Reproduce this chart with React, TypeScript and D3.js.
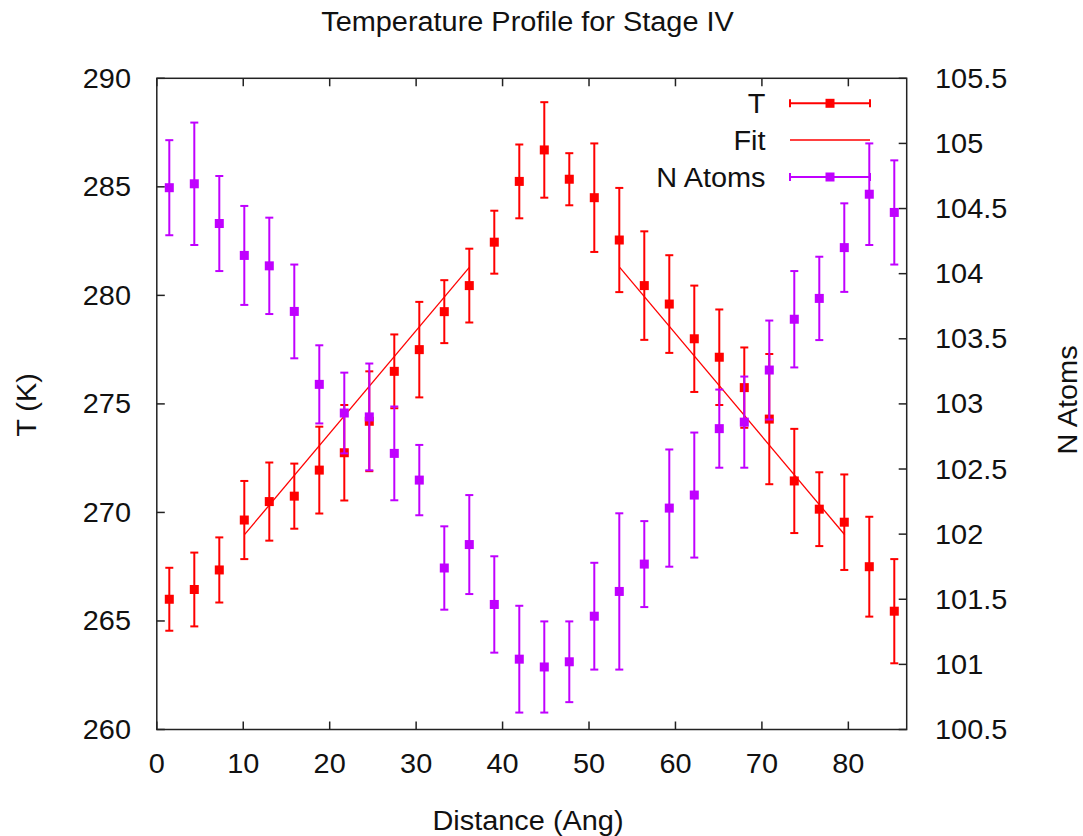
import React from "react";
import * as d3 from "d3";

const distance = [1.446, 4.338, 7.23, 10.122, 13.014, 15.906, 18.798, 21.69, 24.582, 27.474, 30.366, 33.258, 36.15, 39.042, 41.934, 44.826, 47.718, 50.61, 53.502, 56.394, 59.286, 62.178, 65.07, 67.962, 70.854, 73.746, 76.638, 79.53, 82.422, 85.314];
const tempValues = [266.0, 266.45, 267.35, 269.65, 270.5, 270.75, 271.95, 272.75, 274.2, 276.5, 277.5, 279.25, 280.45, 282.45, 285.25, 286.7, 285.35, 284.5, 282.55, 280.45, 279.6, 278.0, 277.15, 275.75, 274.3, 271.45, 270.15, 269.55, 267.5, 265.45];
const tempErrors = [1.45, 1.7, 1.5, 1.8, 1.8, 1.5, 2.0, 2.2, 2.3, 1.7, 2.2, 1.45, 1.7, 1.45, 1.7, 2.2, 1.2, 2.5, 2.4, 2.5, 2.25, 2.45, 2.2, 1.85, 3.0, 2.4, 1.7, 2.2, 2.3, 2.4];
const atomValues = [104.66, 104.69, 104.385, 104.14, 104.06, 103.71, 103.15, 102.93, 102.9, 102.62, 102.415, 101.74, 101.92, 101.46, 101.04, 100.98, 101.02, 101.37, 101.56, 101.77, 102.2, 102.3, 102.81, 102.86, 103.26, 103.65, 103.81, 104.2, 104.61, 104.47];
const atomErrors = [0.365, 0.47, 0.365, 0.38, 0.37, 0.36, 0.3, 0.31, 0.41, 0.36, 0.27, 0.32, 0.38, 0.37, 0.41, 0.35, 0.31, 0.41, 0.6, 0.33, 0.45, 0.48, 0.3, 0.35, 0.38, 0.37, 0.32, 0.34, 0.39, 0.4];
// Fit segments: [x start, x end, T start, T end]
const fitLeft = [10.17, 36.15, 268.99, 281.29];
const fitRight = [53.55, 79.58, 281.29, 268.97];

const xTicks = [0, 10, 20, 30, 40, 50, 60, 70, 80];
const yTicks = [260, 265, 270, 275, 280, 285, 290];
const y2Ticks = [100.5, 101, 101.5, 102, 102.5, 103, 103.5, 104, 104.5, 105, 105.5];

const RED = "#ff0000";
const PURPLE = "#c000ff";
const FONT = "'Liberation Sans', Arial, sans-serif";
const FS = 27;
const SX = 1.07;

const L = 156.8, R = 906.7, TOP = 78.3, BOT = 729.5;

function Txt({ x, y, anchor = "start", rotate = 0, children }: any) {
  return (
    <text
      transform={`translate(${x},${y}) rotate(${rotate}) scale(${SX},1)`}
      textAnchor={anchor}
      fontFamily={FONT}
      fontSize={FS}
      fill="#111"
    >
      {children}
    </text>
  );
}

export default function App() {
  const x = d3.scaleLinear().domain([0, 86.75]).range([L, R]);
  const y = d3.scaleLinear().domain([260, 290]).range([BOT, TOP]);
  const y2 = d3.scaleLinear().domain([100.5, 105.5]).range([BOT, TOP]);
  const line = d3.line<[number, number]>().x((d) => x(d[0])).y((d) => y(d[1]));
  const cap = 4;
  const ms = 4.5;
  const tick = 8;

  const errSeries = (vals: number[], errs: number[], sc: any, color: string, key: string) => (
    <g key={key}>
      {vals.map((v, i) => {
        const cx = x(distance[i]);
        const yt = sc(v + errs[i]);
        const yb = sc(v - errs[i]);
        return (
          <g key={i}>
            <line x1={cx} x2={cx} y1={yt} y2={yb} stroke={color} strokeWidth={2} />
            <line x1={cx - cap} x2={cx + cap} y1={yt} y2={yt} stroke={color} strokeWidth={2} />
            <line x1={cx - cap} x2={cx + cap} y1={yb} y2={yb} stroke={color} strokeWidth={2} />
            <rect x={cx - ms} y={sc(v) - ms} width={ms * 2} height={ms * 2} fill={color} />
          </g>
        );
      })}
    </g>
  );

  const legendRow = (label: string, yy: number, color: string, withBars: boolean) => (
    <g key={label}>
      <Txt x={765.5} y={yy + 9.5} anchor="end">{label}</Txt>
      <line x1={790} x2={870} y1={yy} y2={yy} stroke={color} strokeWidth={withBars ? 2 : 1.5} />
      {withBars && (
        <>
          <line x1={790} x2={790} y1={yy - cap} y2={yy + cap} stroke={color} strokeWidth={2} />
          <line x1={870} x2={870} y1={yy - cap} y2={yy + cap} stroke={color} strokeWidth={2} />
          <rect x={830 - ms} y={yy - ms} width={ms * 2} height={ms * 2} fill={color} />
        </>
      )}
    </g>
  );

  return (
    <svg width={1083} height={836} style={{ position: "absolute", left: 0, top: 0, background: "#fff" }}>
      <rect width={1083} height={836} fill="#fff" />
      <Txt x={527.5} y={31} anchor="middle">Temperature Profile for Stage IV</Txt>

      {xTicks.map((t) => (
        <g key={"x" + t}>
          <line x1={x(t)} x2={x(t)} y1={BOT} y2={BOT - tick} stroke="#222" strokeWidth={1.5} />
          <line x1={x(t)} x2={x(t)} y1={TOP} y2={TOP + tick} stroke="#222" strokeWidth={1.5} />
          <Txt x={x(t)} y={773} anchor="middle">{t}</Txt>
        </g>
      ))}
      {yTicks.map((t) => (
        <g key={"y" + t}>
          <line x1={L} x2={L + tick} y1={y(t)} y2={y(t)} stroke="#222" strokeWidth={1.5} />
          <Txt x={131} y={y(t) + 9.5} anchor="end">{t}</Txt>
        </g>
      ))}
      {y2Ticks.map((t) => (
        <g key={"y2" + t}>
          <line x1={R} x2={R - tick} y1={y2(t)} y2={y2(t)} stroke="#222" strokeWidth={1.5} />
          <Txt x={935} y={y2(t) + 9.5} anchor="start">{t}</Txt>
        </g>
      ))}

      <Txt x={36} y={405} anchor="middle" rotate={-90}>T (K)</Txt>
      <Txt x={1077} y={400} anchor="middle" rotate={-90}>N Atoms</Txt>
      <Txt x={528} y={830} anchor="middle">Distance (Ang)</Txt>

      {errSeries(tempValues, tempErrors, y, RED, "T")}
      <path
        d={line([[fitLeft[0], fitLeft[2]], [fitLeft[1], fitLeft[3]]]) || ""}
        stroke={RED}
        strokeWidth={1.3}
        fill="none"
      />
      <path
        d={line([[fitRight[0], fitRight[2]], [fitRight[1], fitRight[3]]]) || ""}
        stroke={RED}
        strokeWidth={1.3}
        fill="none"
      />
      {errSeries(atomValues, atomErrors, y2, PURPLE, "N")}

      {legendRow("T", 103.3, RED, true)}
      {legendRow("Fit", 140, RED, false)}
      {legendRow("N Atoms", 177, PURPLE, true)}

      <rect x={L} y={TOP} width={R - L} height={BOT - TOP} fill="none" stroke="#222" strokeWidth={1.5} />
    </svg>
  );
}
